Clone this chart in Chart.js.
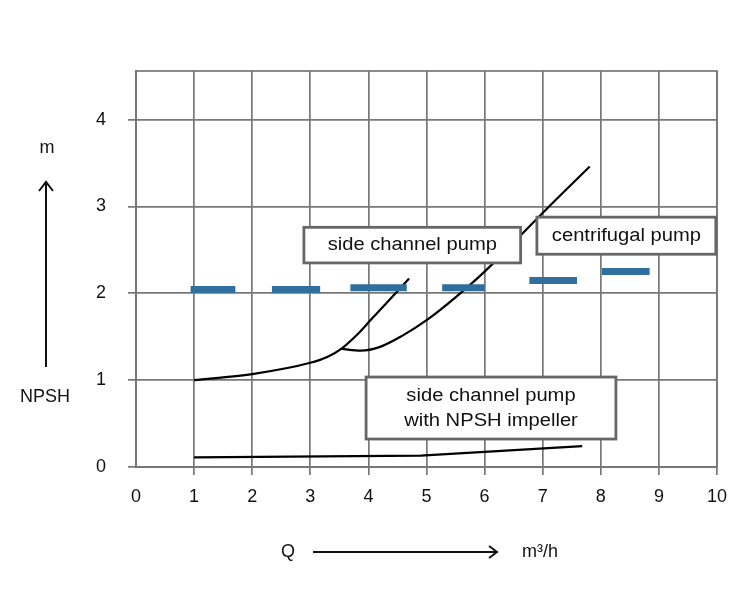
<!DOCTYPE html>
<html>
<head>
<meta charset="utf-8">
<script src="https://cdn.jsdelivr.net/npm/chart.js@4"></script>
<style>
  body { margin: 0; background: #fff; }
  canvas { display: block; }
</style>
</head>
<body>
<canvas id="myChart" width="746" height="600"></canvas>
<script>
// tick values
var xTicks = [0, 1, 2, 3, 4, 5, 6, 7, 8, 9, 10];
var yTicks = [0, 1, 2, 3, 4];

// side channel pump
var sideX = [1, 2, 3, 3.3, 3.55, 3.8, 4.05, 4.3, 4.55, 4.7];
var sideY = [1.0, 1.07, 1.2, 1.27, 1.37, 1.52, 1.70, 1.88, 2.06, 2.17];

// centrifugal pump
var centX = [3.54, 3.87, 4.19, 4.58, 5.02, 5.51, 6.0, 6.64, 7.02, 7.81];
var centY = [1.36, 1.34, 1.38, 1.51, 1.70, 1.96, 2.25, 2.68, 2.94, 3.46];

// side channel pump with NPSH impeller
var impX = [1, 4.9, 7.68];
var impY = [0.11, 0.13, 0.24];

// blue dashes
var dashStart = [0.94, 2.34, 3.69, 5.27, 6.77, 8.02];
var dashEnd = [1.71, 3.17, 4.66, 6.0, 7.59, 8.84];
var dashY = [2.045, 2.045, 2.065, 2.065, 2.147, 2.25];

// text boxes (data units)
var boxes = [
  { lines: ['side channel pump'], x0: 2.89, x1: 6.62, y0: 2.35, y1: 2.76 },
  { lines: ['centrifugal pump'], x0: 6.9, x1: 9.98, y0: 2.45, y1: 2.877 },
  { lines: ['side channel pump', 'with NPSH impeller'], x0: 3.96, x1: 8.26, y0: 0.322, y1: 1.036 }
];

function pts(xs, ys) {
  return xs.map(function (x, i) { return { x: x, y: ys[i] }; });
}

var dashData = [];
dashStart.forEach(function (s, i) {
  dashData.push({ x: s, y: dashY[i] });
  dashData.push({ x: dashEnd[i], y: dashY[i] });
  dashData.push({ x: dashEnd[i], y: null });
});

var gridGray = '#777';
var fontFam = '"Liberation Sans", Arial, sans-serif';

var framePlugin = {
  id: 'frame',
  beforeDatasetsDraw: function (chart) {
    var a = chart.chartArea, c = chart.ctx;
    c.save();
    c.strokeStyle = gridGray;
    c.lineWidth = 1.7;
    c.strokeRect(a.left, a.top, a.right - a.left, a.bottom - a.top);
    c.restore();
  },
  afterDatasetsDraw: function (chart) {
    var c = chart.ctx, sx = chart.scales.x, sy = chart.scales.y;
    c.save();
    boxes.forEach(function (b) {
      var l = sx.getPixelForValue(b.x0), r = sx.getPixelForValue(b.x1);
      var t = sy.getPixelForValue(b.y1), bt = sy.getPixelForValue(b.y0);
      c.fillStyle = '#fff';
      c.fillRect(l, t, r - l, bt - t);
      c.strokeStyle = '#666';
      c.lineWidth = 2.8;
      c.strokeRect(l, t, r - l, bt - t);
      c.fillStyle = '#111';
      c.font = '18px ' + fontFam;
      c.textAlign = 'center';
      c.textBaseline = 'middle';
      var cx = (l + r) / 2, cy = (t + bt) / 2, lh = 25;
      b.lines.forEach(function (txt, i) {
        var y = cy + (i - (b.lines.length - 1) / 2) * lh;
        c.save();
        c.translate(cx, y);
        c.scale(1.12, 1);
        c.fillText(txt, 0, 0);
        c.restore();
      });
    });

    // axis titles with arrows
    c.fillStyle = '#111';
    c.strokeStyle = '#111';
    c.lineWidth = 2;
    c.font = '18px ' + fontFam;
    c.textAlign = 'center';
    c.textBaseline = 'middle';
    c.fillText('m', 47, 148);
    c.fillText('NPSH', 45, 397);
    c.fillText('Q', 288, 552);
    c.fillText('m³/h', 540, 552);
    c.beginPath();
    c.moveTo(46, 367); c.lineTo(46, 182);
    c.moveTo(39, 191); c.lineTo(46, 182); c.lineTo(53, 191);
    c.moveTo(313, 552); c.lineTo(497, 552);
    c.moveTo(489, 546); c.lineTo(497, 552); c.lineTo(489, 558);
    c.stroke();
    c.restore();
  }
};

var ctx = document.getElementById('myChart').getContext('2d');
var chart = new Chart(ctx, {
  type: 'line',
  data: {
    datasets: [
      {
        data: dashData,
        borderColor: '#2f6e9d',
        borderWidth: 7,
        borderCapStyle: 'butt',
        spanGaps: false,
        pointRadius: 0
      },
      {
        data: pts(sideX, sideY),
        borderColor: '#000',
        borderWidth: 2.2,
        cubicInterpolationMode: 'monotone',
        pointRadius: 0
      },
      {
        data: pts(centX, centY),
        borderColor: '#000',
        borderWidth: 2.2,
        cubicInterpolationMode: 'monotone',
        pointRadius: 0
      },
      {
        data: pts(impX, impY),
        borderColor: '#000',
        borderWidth: 2.2,
        pointRadius: 0
      }
    ]
  },
  options: {
    responsive: false,
    animation: false,
    layout: { padding: { top: 71, right: 29, left: 0, bottom: 0 } },
    plugins: { legend: { display: false }, tooltip: { enabled: false } },
    scales: {
      x: {
        type: 'linear',
        min: xTicks[0],
        max: xTicks[xTicks.length - 1],
        afterFit: function (s) { s.height = 133; },
        afterBuildTicks: function (s) { s.ticks = xTicks.map(function (v) { return { value: v }; }); },
        ticks: { font: { size: 18, family: fontFam }, color: '#111', padding: 11, maxRotation: 0 },
        grid: {
          color: gridGray, lineWidth: 1.7, tickLength: 8,
          tickColor: function (c) { return c.tick && c.tick.value === 0 ? 'rgba(0,0,0,0)' : gridGray; }
        },
        border: { color: gridGray, width: 1.7 }
      },
      y: {
        min: 0,
        max: 4.56,
        afterFit: function (s) { s.width = 136; },
        afterBuildTicks: function (s) { s.ticks = yTicks.map(function (v) { return { value: v }; }); },
        ticks: { font: { size: 18, family: fontFam }, color: '#111', padding: 22 },
        grid: { color: gridGray, lineWidth: 1.7, tickLength: 8 },
        border: { color: gridGray, width: 1.7 }
      }
    }
  },
  plugins: [framePlugin]
});
</script>
</body>
</html>
